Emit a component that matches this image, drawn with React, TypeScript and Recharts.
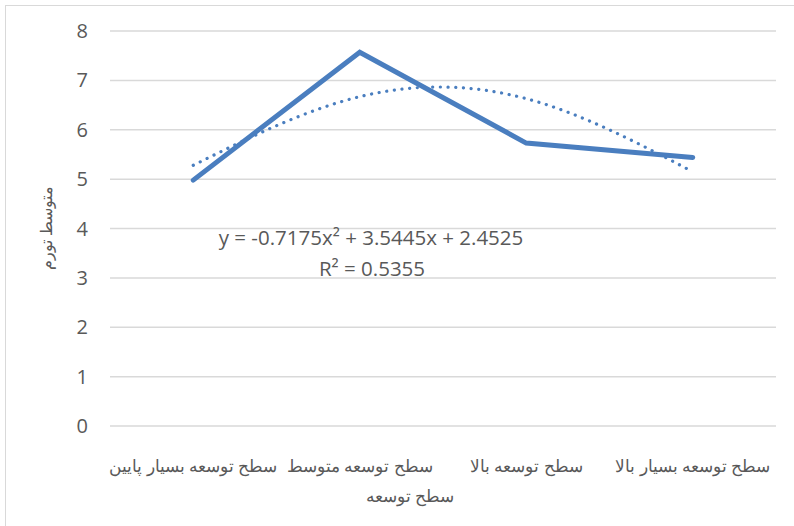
import { LineChart, Line, XAxis, YAxis, CartesianGrid, Customized } from "recharts";

const levels = [
  "سطح توسعه بسیار پایین",
  "سطح توسعه متوسط",
  "سطح توسعه بالا",
  "سطح توسعه بسیار بالا",
];
const inflation = [4.98, 7.57, 5.73, 5.44];
// polynomial (order 2) trendline evaluated at each category
const trend = [5.28, 6.67, 6.63, 5.15];
const yTicks = [0, 1, 2, 3, 4, 5, 6, 7, 8];

const equation = "y = -0.7175x² + 3.5445x + 2.4525";
const rSquared = "R² = 0.5355";

const data = levels.map((name, i) => ({ name, value: inflation[i], trend: trend[i] }));

const BLUE = "#4a7ebf";
const GRAY = "#595959";
const NUM_FONT = "'Open Sans', 'Liberation Sans', sans-serif";
const FA_FONT = "'Liberation Serif', 'DejaVu Serif', serif";

const CategoryTick = (props: any) => {
  const { x, y, payload } = props;
  return (
    <text x={x} y={y + 38} textAnchor="middle" fill={GRAY} fontSize={17} fontFamily={FA_FONT}>
      {payload.value}
    </text>
  );
};

const Annotations = () => (
  <g>
    <text x={371} y={245} textAnchor="middle" fill={GRAY} fontSize={20.5} fontFamily={NUM_FONT}>
      {equation}
    </text>
    <text x={372} y={276} textAnchor="middle" fill={GRAY} fontSize={20.5} fontFamily={NUM_FONT}>
      {rSquared}
    </text>
    <text x={410} y={502} textAnchor="middle" fill={GRAY} fontSize={17} fontFamily={FA_FONT}>
      سطح توسعه
    </text>
    <text
      x={46}
      y={228}
      transform="rotate(-90 46 228)"
      textAnchor="middle"
      dominantBaseline="central"
      fill={GRAY}
      fontSize={16}
      fontFamily={FA_FONT}
    >
      متوسط تورم
    </text>
  </g>
);

export default function App() {
  return (
    <div style={{ position: "absolute", left: 0, top: 0, width: 794, height: 526, background: "#fff", overflow: "hidden" }}>
      <div
        style={{
          position: "absolute",
          left: 5,
          top: 5,
          width: 800,
          height: 540,
          border: "1.5px solid #d9d9d9",
          boxSizing: "border-box",
        }}
      />
      <LineChart
        width={794}
        height={526}
        data={data}
        margin={{ top: 31, right: 18, left: 0, bottom: 0 }}
        style={{ position: "absolute", left: 0, top: 0 }}
      >
        <CartesianGrid vertical={false} stroke="#d9d9d9" strokeWidth={1.5} />
        <XAxis
          dataKey="name"
          scale="band"
          axisLine={false}
          tickLine={false}
          height={100}
          interval={0}
          tick={<CategoryTick />}
        />
        <YAxis
          domain={[0, 8]}
          ticks={yTicks}
          width={110}
          axisLine={false}
          tickLine={false}
          tickMargin={16}
          tick={{ fill: GRAY, fontSize: 20, fontFamily: NUM_FONT }}
        />
        <Line
          type="natural"
          dataKey="trend"
          stroke={BLUE}
          strokeWidth={3.2}
          strokeDasharray="0.1 7.6"
          strokeLinecap="round"
          dot={false}
          isAnimationActive={false}
        />
        <Line
          type="linear"
          dataKey="value"
          stroke={BLUE}
          strokeWidth={5}
          strokeLinecap="round"
          strokeLinejoin="miter"
          dot={false}
          isAnimationActive={false}
        />
        <Customized component={Annotations} />
      </LineChart>
    </div>
  );
}
